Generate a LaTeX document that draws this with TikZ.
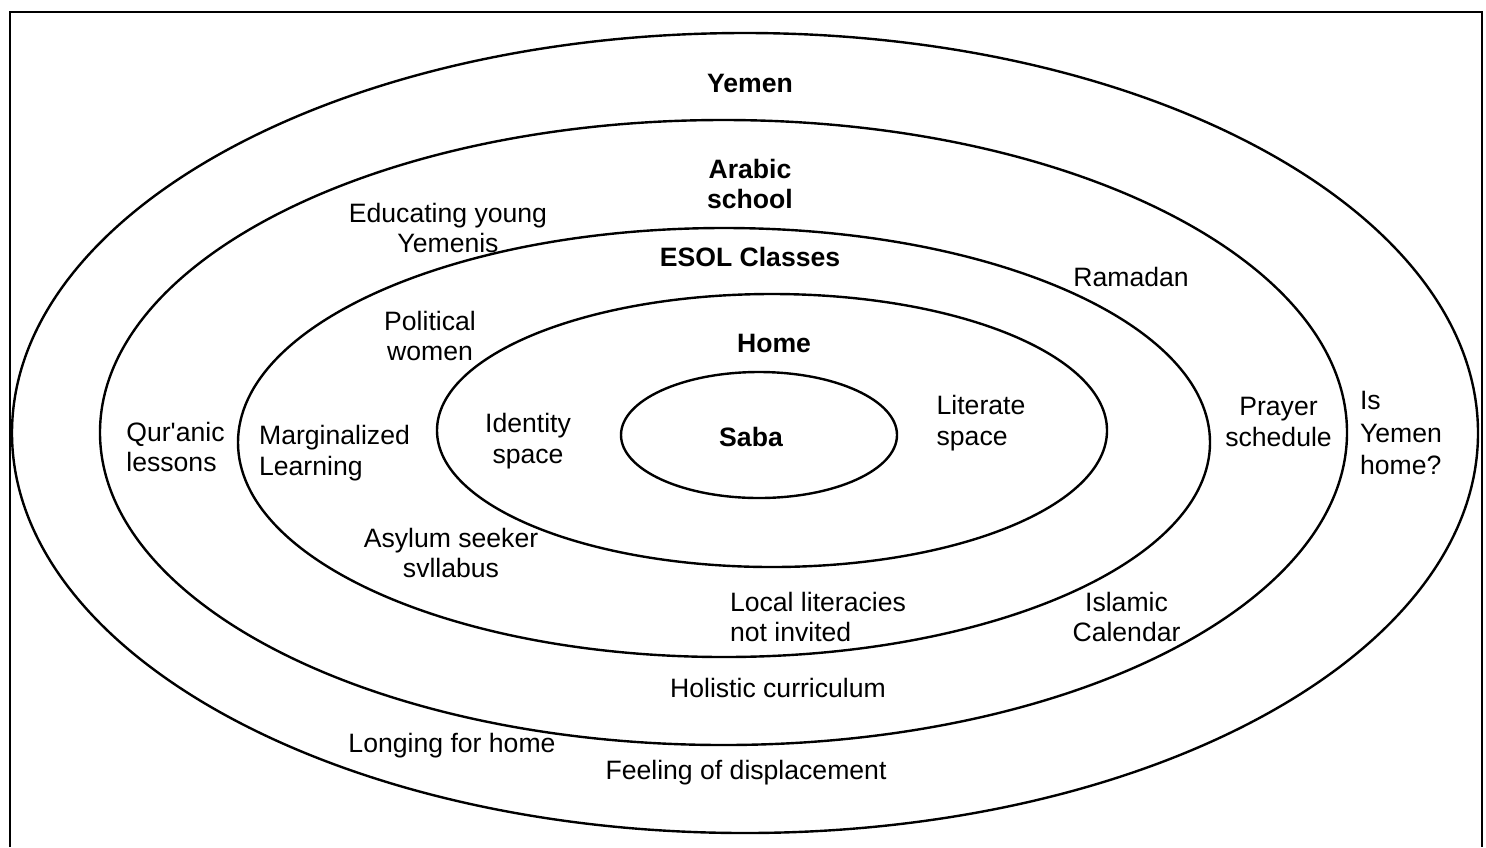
\documentclass[tikz,border=0pt]{standalone}
\usepackage{fontspec}
\setmainfont{Liberation Sans}
\begin{document}
\begin{tikzpicture}[x=0.5pt,y=-0.5pt,
  ring/.style={line width=1.2pt},
  lbl/.style={font=\fontsize{13.3}{15.3}\selectfont, inner sep=0pt, align=center},
  ttl/.style={lbl, font=\fontsize{13.3}{15.3}\selectfont\bfseries}]
\useasboundingbox (0,0) rectangle (1486,847);
% frame, open at the bottom
\draw[line width=1.3pt] (10,847) -- (10,12) -- (1482,12) -- (1482,847);
% nested spheres
\draw[ring] (745,433)   ellipse [x radius=733, y radius=400];
\draw[ring] (723.5,432.5) ellipse [x radius=623.5, y radius=312.5];
\draw[ring] (724,442.5) ellipse [x radius=486, y radius=214.5];
\draw[ring] (772,430.5) ellipse [x radius=335, y radius=136.5];
\draw[ring] (759,435)   ellipse [x radius=138, y radius=63];
% labels
\node[ttl] (yemen) at (750,83) {Yemen};
\node[ttl] (arabic) at (750,184) {Arabic\\school};
\node[lbl] (educ) at (448,228) {Educating young\\Yemenis};
\node[ttl] (esol) at (750,257) {ESOL Classes};
\node[lbl] (ramadan) at (1131,277) {Ramadan};
\node[lbl] (political) at (430,336) {Political\\women};
\node[ttl] (home) at (774,343) {Home};
\node[lbl, align=left] (quranic) at (175.5,447) {Qur\textquotesingle anic\\lessons};
\node[lbl, align=left] (marg) at (334.5,453) {Marginalized\\Learning};
\node[lbl] (identity) at (528,441) {Identity\\space};
\node[ttl] (saba) at (751,437) {Saba};
\node[lbl, align=left] (literate) at (981,423) {Literate\\space};
\node[lbl] (prayer) at (1278.5,422) {Prayer\\schedule};
\node[lbl, align=left] (isyemen) at (1401,433) {Is\\[1pt]Yemen\\[1pt]home?};
\node[lbl] (asylum) at (451,553) {Asylum seeker\\svllabus};
\node[lbl, align=left] (local) at (818,617) {Local literacies\\not invited};
\node[lbl] (islamic) at (1126.5,617) {Islamic\\Calendar};
\node[lbl] (holistic) at (778,688) {Holistic curriculum};
\node[lbl] (longing) at (452,746) {Longing for home};
\node[lbl] (feeling) at (746,773) {Feeling of displacement};
\end{tikzpicture}
\end{document}
